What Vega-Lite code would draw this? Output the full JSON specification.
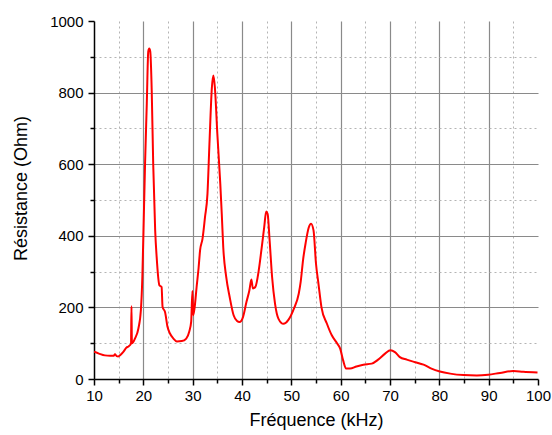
{
  "$schema": "https://vega.github.io/schema/vega-lite/v6.json",
  "width": 444,
  "height": 358,
  "autosize": "none",
  "padding": {"left": 94, "top": 21, "right": 14, "bottom": 56},
  "background": "white",
  "config": {
    "view": {"stroke": null},
    "font": "Liberation Sans"
  },
  "data": {
    "values": [
      {"f": 10.0, "r": 76}, {"f": 11.0, "r": 71}, {"f": 12.2, "r": 66}, {"f": 13.25, "r": 65},
      {"f": 14.0, "r": 65}, {"f": 14.25, "r": 69}, {"f": 14.6, "r": 64}, {"f": 14.9, "r": 63},
      {"f": 15.4, "r": 68}, {"f": 15.9, "r": 75}, {"f": 16.6, "r": 88}, {"f": 17.0, "r": 91},
      {"f": 17.5, "r": 99}, {"f": 17.6, "r": 203}, {"f": 17.68, "r": 100}, {"f": 17.85, "r": 101},
      {"f": 18.3, "r": 113}, {"f": 19.0, "r": 141}, {"f": 19.5, "r": 192}, {"f": 19.8, "r": 285},
      {"f": 20.0, "r": 397}, {"f": 20.35, "r": 601}, {"f": 20.7, "r": 769}, {"f": 21.0, "r": 915},
      {"f": 21.2, "r": 923}, {"f": 21.4, "r": 915}, {"f": 21.7, "r": 806}, {"f": 22.0, "r": 601},
      {"f": 22.4, "r": 415}, {"f": 22.7, "r": 341}, {"f": 23.25, "r": 262}, {"f": 23.7, "r": 257},
      {"f": 23.9, "r": 201}, {"f": 24.4, "r": 187}, {"f": 24.9, "r": 146}, {"f": 25.4, "r": 127},
      {"f": 26.1, "r": 113}, {"f": 26.8, "r": 105}, {"f": 27.8, "r": 106}, {"f": 28.7, "r": 113},
      {"f": 29.3, "r": 132}, {"f": 29.7, "r": 160}, {"f": 29.95, "r": 246}, {"f": 30.1, "r": 178},
      {"f": 30.4, "r": 200}, {"f": 30.8, "r": 257}, {"f": 31.2, "r": 310}, {"f": 31.5, "r": 359},
      {"f": 32.0, "r": 392}, {"f": 32.5, "r": 452}, {"f": 33.0, "r": 517}, {"f": 33.4, "r": 657},
      {"f": 33.9, "r": 815}, {"f": 34.2, "r": 848}, {"f": 34.5, "r": 815}, {"f": 35.0, "r": 685},
      {"f": 35.6, "r": 545}, {"f": 35.9, "r": 461}, {"f": 36.2, "r": 368}, {"f": 36.8, "r": 285},
      {"f": 37.5, "r": 229}, {"f": 38.3, "r": 178}, {"f": 39.0, "r": 162}, {"f": 39.5, "r": 159},
      {"f": 40.2, "r": 173}, {"f": 40.9, "r": 215}, {"f": 41.5, "r": 248}, {"f": 41.9, "r": 278},
      {"f": 42.2, "r": 253}, {"f": 42.7, "r": 257}, {"f": 43.4, "r": 304}, {"f": 44.0, "r": 368},
      {"f": 44.5, "r": 424}, {"f": 44.9, "r": 468}, {"f": 45.2, "r": 461}, {"f": 45.6, "r": 387},
      {"f": 46.1, "r": 285}, {"f": 46.7, "r": 210}, {"f": 47.4, "r": 168}, {"f": 48.4, "r": 154},
      {"f": 49.4, "r": 165}, {"f": 50.5, "r": 196}, {"f": 51.5, "r": 238}, {"f": 51.9, "r": 272},
      {"f": 52.4, "r": 335}, {"f": 52.9, "r": 380}, {"f": 53.5, "r": 422}, {"f": 54.0, "r": 434},
      {"f": 54.5, "r": 415}, {"f": 55.0, "r": 322}, {"f": 55.5, "r": 266}, {"f": 56.1, "r": 201},
      {"f": 57.2, "r": 155}, {"f": 58.2, "r": 122}, {"f": 59.3, "r": 99}, {"f": 59.9, "r": 85},
      {"f": 60.5, "r": 52}, {"f": 61.1, "r": 29}, {"f": 61.9, "r": 29}, {"f": 63.2, "r": 35},
      {"f": 64.6, "r": 40}, {"f": 66.3, "r": 43}, {"f": 67.6, "r": 54}, {"f": 69.0, "r": 71},
      {"f": 70.1, "r": 80}, {"f": 71.0, "r": 75}, {"f": 72.0, "r": 61}, {"f": 73.4, "r": 54},
      {"f": 75.1, "r": 47}, {"f": 76.8, "r": 40}, {"f": 78.4, "r": 29}, {"f": 80.1, "r": 21},
      {"f": 82.2, "r": 15}, {"f": 84.9, "r": 11}, {"f": 87.6, "r": 10}, {"f": 89.9, "r": 12},
      {"f": 92.3, "r": 17}, {"f": 95.0, "r": 22}, {"f": 97.0, "r": 20}, {"f": 99.9, "r": 18}
    ]
  },
  "mark": {"type": "line", "color": "#ff0000", "strokeWidth": 2, "clip": true, "interpolate": "monotone"},
  "encoding": {
    "x": {
      "field": "f", "type": "quantitative",
      "scale": {"domain": [10, 100], "nice": false, "zero": false},
      "axis": {
        "title": "Fréquence (kHz)",
        "values": [10, 15, 20, 25, 30, 35, 40, 45, 50, 55, 60, 65, 70, 75, 80, 85, 90, 95, 100],
        "labelExpr": "datum.value % 10 === 0 ? datum.label : ''",
        "labelFontSize": 15, "labelColor": "#000", "labelPadding": 3, "labelFlush": false,
        "titleFontSize": 18, "titleFontWeight": "normal", "titleColor": "#000", "titlePadding": 8,
        "domainColor": "#000", "domainWidth": 1.5,
        "tickColor": "#000", "tickWidth": 1.5,
        "tickSize": {"condition": {"test": "datum.value % 10 === 0", "value": 6}, "value": 4},
        "grid": true,
        "gridColor": {"condition": {"test": "datum.value % 10 === 0", "value": "#8a8a8a"}, "value": "#b4b4b4"},
        "gridDash": {"condition": {"test": "datum.value % 10 === 0", "value": []}, "value": [2, 3]},
        "gridWidth": {"condition": {"test": "datum.value % 10 === 0", "value": 1.2}, "value": 1},
        "gridOpacity": {"condition": {"test": "datum.value === 100 || datum.value === 10", "value": 0}, "value": 1}
      }
    },
    "y": {
      "field": "r", "type": "quantitative",
      "scale": {"domain": [0, 1000], "nice": false},
      "axis": {
        "title": "Résistance (Ohm)",
        "values": [0, 100, 200, 300, 400, 500, 600, 700, 800, 900, 1000],
        "format": "d",
        "labelExpr": "datum.value % 200 === 0 ? datum.label : ''",
        "labelFontSize": 15, "labelColor": "#000", "labelPadding": 5, "labelFlush": false,
        "titleFontSize": 18, "titleFontWeight": "normal", "titleColor": "#000",
        "titleX": -73, "titleY": 167, "titleAngle": -90, "titleAlign": "center", "titleBaseline": "middle",
        "domainColor": "#000", "domainWidth": 1.5,
        "tickColor": "#000", "tickWidth": 1.5,
        "tickSize": {"condition": {"test": "datum.value % 200 === 0", "value": 6}, "value": 4},
        "grid": true,
        "gridColor": {"condition": {"test": "datum.value % 200 === 0", "value": "#8a8a8a"}, "value": "#b4b4b4"},
        "gridDash": {"condition": {"test": "datum.value % 200 === 0", "value": []}, "value": [2, 3]},
        "gridWidth": {"condition": {"test": "datum.value % 200 === 0", "value": 1.2}, "value": 1},
        "gridOpacity": {"condition": {"test": "datum.value === 1000 || datum.value === 0", "value": 0}, "value": 1}
      }
    }
  }
}
